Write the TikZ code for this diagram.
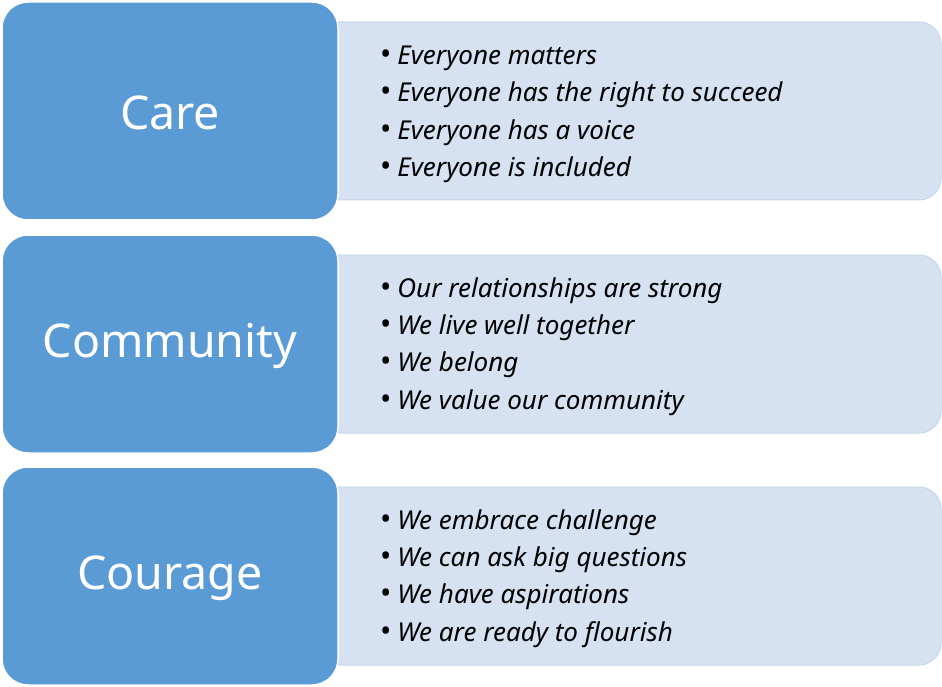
\documentclass[tikz,border=0pt]{standalone}
\usepackage{fontspec}
\setmainfont{Noto Sans}
\definecolor{bluebox}{HTML}{5B9BD5}
\definecolor{lightbox}{HTML}{D6E1F2}
\definecolor{lightedge}{HTML}{C8D6EE}
\begin{document}
\begin{tikzpicture}[x=1pt,y=-1pt,
  headbox/.style={fill=bluebox,draw=white,line width=1.5pt,rounded corners=26pt},
  listbox/.style={fill=lightbox,draw=lightedge,line width=1pt,rounded corners=22pt},
  headtext/.style={text=white,font=\fontsize{46.5}{52}\selectfont},
  item/.style={anchor=west,font=\fontsize{26}{30}\selectfont\itshape,inner sep=0pt}]
\useasboundingbox (0,0) rectangle (942,687);
\foreach \t/\n [count=\i] in {0/Care,233/Community,465/Courage}{
  \draw[listbox] (300,\t+22) rectangle (941,\t+200);
  \draw[headbox] (2,\t+2) rectangle (338,\t+220);
  \node[headtext] (h\i) at (170,\t+113) {\n};
}
\foreach \y/\txt [count=\k] in {56/Everyone matters,93/Everyone has the right to succeed,131/Everyone has a voice,168/Everyone is included,
  289/Our relationships are strong,326/We live well together,363/We belong,401/We value our community,
  521/We embrace challenge,558/We can ask big questions,595/We have aspirations,633/We are ready to flourish}{
  \node[item] (l\k) at (380,\y+2) {{\upshape\fontsize{30}{30}\selectfont•}\hspace{6pt}\txt};
}
\end{tikzpicture}
\end{document}
